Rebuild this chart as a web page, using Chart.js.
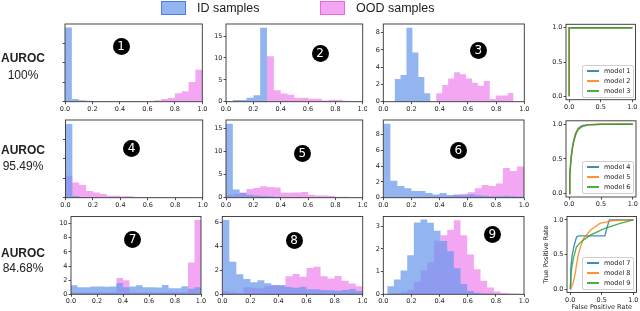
<!DOCTYPE html>
<html><head><meta charset="utf-8">
<script src="https://cdn.jsdelivr.net/npm/chart.js@4.4.1/dist/chart.umd.min.js"></script>
<style>
html,body{margin:0;padding:0;background:#fff;}
#root{position:relative;width:640px;height:311px;overflow:hidden;font-family:'Liberation Sans',Arial,sans-serif;color:#222;}
canvas{position:absolute;}
.t{position:absolute;white-space:nowrap;}
.sw{position:absolute;width:25px;height:14px;box-sizing:border-box;}
.num{position:absolute;width:17px;height:17px;border-radius:50%;background:#000;color:#fff;font:12px 'DejaVu Sans',sans-serif;text-align:center;line-height:17px;}
.rl{position:absolute;width:52px;box-sizing:border-box;border:1px solid #d0d0d0;border-radius:2px;background:rgba(255,255,255,0.85);font:6.5px 'DejaVu Sans',sans-serif;color:#222;padding:0 0 1px 0;}
.rr{height:10px;display:flex;align-items:center;white-space:nowrap;}
.ln{display:inline-block;width:12px;height:1.5px;margin:0 5px 0 4px;}
</style></head><body><div id="root"></div>
<script>
// ---------------- DATA ----------------
const legendLabels = ['ID samples', 'OOD samples'];
const rowTitles = ['AUROC', 'AUROC', 'AUROC'];
const rowScores = ['100%', '95.49%', '84.68%'];
const histXTicks = [0, 0.2, 0.4, 0.6, 0.8, 1.0];
const rocTicks = [0, 0.5, 1.0];

// each histogram: 20 equal bins over [start, end]
const p1Range = [0, 1];
const p1Id  = [19.07,0.69,0.4,0.25,0.15,0.08,0.05,0.03,0.02,0.02,0.01,0.01,0,0,0,0,0,0,0,0];
const p1Ood = [0,0,0,0,0,0,0,0,0,0,0.15,0.05,0.1,0.35,0.7,0.95,2.2,2.7,5.1,8.25];
const p1YTicks = [0, 5, 10, 15];

const p2Range = [0, 1];
const p2Id  = [0.15,0.4,0.4,0.9,1.45,16.9,0,0,0,0,0,0,0,0,0,0,0,0,0,0];
const p2Ood = [0,0,0,0,0,0.1,10.4,2.6,1.9,1.6,0.85,0.9,0.7,0.7,0.3,0.45,0.45,0.2,0.15,0.15];
const p2YTicks = [0, 5, 10, 15];

const p3Range = [0.08, 0.924];
const p3Id  = [2.63,3.09,8.57,5.71,2.86,0.97,0,0,0,0,0,0,0,0,0,0,0,0,0,0];
const p3Ood = [0,0,0,0,0,0,0,0.97,1.93,2.7,3.4,3.17,2.7,2.2,1.85,2.4,0.3,0.73,0.73,1.0];
const p3YTicks = [0, 2, 4, 6, 8];

const p4Range = [0, 1];
const p4Id  = [18.9,0.45,0.2,0.1,0.08,0.05,0.05,0.03,0.02,0.02,0.02,0.01,0.01,0.01,0,0,0,0,0,0];
const p4Ood = [5.6,3.9,3.25,1.7,1.3,0.95,0.5,0.5,0.35,0.35,0.17,0.17,0.17,0.1,0.1,0.05,0.03,0.02,0.01,0.01];
const p4YTicks = [0, 5, 10, 15];

const p5Range = [0, 1];
const p5Id  = [16.0,1.75,1.0,0.65,0.5,0.35,0.3,0.2,0.12,0.1,0.08,0.06,0.05,0.04,0.03,0.03,0.02,0.02,0.01,0.01];
const p5Ood = [0.65,0.8,1.1,1.9,2.1,2.5,2.3,2.2,1.05,1.05,1.1,1.25,0.65,0.5,0.45,0.35,0.2,0.2,0.15,0.15];
const p5YTicks = [0, 5, 10, 15];

const p6Range = [0, 1];
const p6Id  = [9.4,2.15,1.5,1.2,0.85,0.85,0.6,0.4,0.6,0.35,0.4,0.3,0.4,0.3,0.25,0.2,0.2,0.25,0.2,0.15];
const p6Ood = [0.1,0.1,0.1,0.1,0.1,0.12,0.15,0.15,0.15,0.2,0.35,0.5,0.68,1.2,1.6,1.5,1.8,3.77,3.4,3.95];
const p6YTicks = [0, 2, 4, 6, 8];

const p7Range = [0, 1];
const p7Id  = [1.27,1.0,1.0,1.1,1.1,1.05,1.1,1.6,1.0,1.1,1.27,1.0,1.0,0.95,1.3,0.85,0.85,1.15,0.8,1.0];
const p7Ood = [0.3,0.3,0.3,0.3,0.3,0.3,0.3,2.3,2.0,0.3,0.3,0.3,0.3,0.3,0.3,0.3,0.3,0.3,4.5,10.5];
const p7YTicks = [0, 2, 4, 6, 8, 10];

const p8Range = [0, 1];
const p8Id  = [6.2,2.72,1.67,1.28,1.0,1.17,0.92,0.78,0.75,0.6,0.55,0.64,0.42,0.42,0.36,0.33,0.3,0.36,0.45,0.28];
const p8Ood = [0.28,0.17,0.1,0.58,0.55,0.5,0.7,0.75,0.75,1.5,1.7,1.47,2.2,2.3,1.5,1.33,1.53,1.14,0.9,0.67];
const p8YTicks = [0, 2, 4, 6];

const p9Range = [0.028, 0.975];
const p9Id  = [0.35,0.65,1.05,1.72,3.17,3.3,3.15,2.8,2.35,1.9,1.15,0.45,0.15,0.07,0.03,0.02,0,0,0,0];
const p9Ood = [0.02,0.03,0.1,0.2,0.55,1.06,1.4,2.36,2.6,2.85,3.27,2.6,1.75,1.1,0.6,0.3,0.12,0.06,0.03,0.02];
const p9YTicks = [0, 1, 2, 3];

// ROC curves (false positive rate, true positive rate)
const rocNames1 = ['model 1', 'model 2', 'model 3'];
const m1Fpr = [0, 0, 1], m1Tpr = [0, 1, 1];
const m2Fpr = [0, 0, 1], m2Tpr = [0, 1, 1];
const m3Fpr = [0, 0, 1], m3Tpr = [0, 1, 1];

const rocNames2 = ['model 4', 'model 5', 'model 6'];
const m4Fpr = [0,0.01,0.03,0.05,0.07,0.1,0.14,0.2,0.3,0.5,1], m4Tpr = [0,0.3,0.53,0.67,0.77,0.87,0.94,0.98,0.995,1,1];
const m5Fpr = [0,0.01,0.03,0.05,0.07,0.1,0.14,0.2,0.3,0.5,1], m5Tpr = [0,0.28,0.5,0.65,0.75,0.86,0.93,0.97,0.99,1,1];
const m6Fpr = [0,0.01,0.03,0.05,0.07,0.1,0.14,0.2,0.3,0.5,1], m6Tpr = [0,0.28,0.5,0.64,0.74,0.84,0.92,0.965,0.99,0.998,1];

const rocNames3 = ['model 7', 'model 8', 'model 9'];
const m7Fpr = [0,0.01,0.03,0.06,0.1,0.13,0.55,0.58,0.62,1], m7Tpr = [0,0.3,0.48,0.62,0.75,0.77,0.77,0.88,1,1];
const m8Fpr = [0,0.03,0.05,0.08,0.1,0.13,0.16,0.21,0.32,0.47,0.68,1], m8Tpr = [0,0.05,0.1,0.22,0.35,0.5,0.6,0.73,0.85,0.95,0.99,1];
const m9Fpr = [0,0.016,0.05,0.1,0.18,0.32,0.53,0.79,1], m9Tpr = [0,0.25,0.44,0.61,0.69,0.78,0.87,0.95,1];

const rocAxisTitles = ['False Positive Rate', 'True Positive Rate'];

// ---------------- STYLE / LAYOUT ----------------
const ID_FILL = 'rgba(100,149,237,0.7)';
const OOD_FILL = 'rgba(238,130,238,0.7)';
const TAB = ['rgba(31,119,180,0.85)', 'rgba(255,127,14,0.85)', 'rgba(44,160,44,0.85)'];
const TICK_FONT = {family: "'DejaVu Sans', sans-serif", size: 6.5};
const INK = '#222';
const root = document.getElementById('root');

function fmt1(v) { return Number(v).toFixed(1); }
function fmt0(v) { return String(Math.round(v)); }
function blank() { return ''; }

function geom(box, m) {
  const cl = Math.floor(box[0] - m.yw), ct = Math.floor(box[1] - m.pt);
  const cr = Math.ceil(box[2] + m.pr), cb = Math.min(311, Math.ceil(box[3] + m.xh));
  return {cl, ct, w: cr - cl, h: cb - ct, yw: box[0] - cl, pt: box[1] - ct, pr: cr - box[2], xh: cb - box[3]};
}
function addCanvas(g) {
  const c = document.createElement('canvas');
  c.width = g.w; c.height = g.h;
  c.style.left = g.cl + 'px'; c.style.top = g.ct + 'px';
  c.style.width = g.w + 'px'; c.style.height = g.h + 'px';
  root.appendChild(c);
  return c;
}
function axis(pos, min, max, ticks, fmt, size, title) {
  const a = {
    type: 'linear', position: pos, min: min, max: max,
    afterBuildTicks: s => { s.ticks = ticks.map(v => ({value: v})); },
    afterFit: s => {
      if (pos === 'bottom') s.height = size; else s.width = size;
      s.paddingLeft = 0; s.paddingRight = 0; s.paddingTop = 0; s.paddingBottom = 0;
    },
    ticks: {font: TICK_FONT, color: INK, padding: 1, autoSkip: false, maxRotation: 0, minRotation: 0, callback: v => fmt(v)},
    grid: {drawOnChartArea: false, drawTicks: true, tickLength: 2.5, tickColor: INK, tickWidth: 0.8},
    border: {display: false}
  };
  if (title) a.title = {display: true, text: title, font: TICK_FONT, color: INK, padding: 0};
  return a;
}
const frame = {
  id: 'frame',
  afterDatasetsDraw(c) {
    const a = c.chartArea, x = c.ctx;
    x.save(); x.strokeStyle = '#333'; x.lineWidth = 0.9;
    x.strokeRect(a.left, a.top, a.right - a.left, a.bottom - a.top);
    x.restore();
  }
};
function steps(range, counts) {
  const w = (range[1] - range[0]) / counts.length;
  const pts = counts.map((c, i) => ({x: range[0] + i * w, y: c}));
  pts.push({x: range[1], y: counts[counts.length - 1]});
  return pts;
}
function histDs(label, pts, color) {
  return {label, data: pts, stepped: 'before', fill: 'origin', backgroundColor: color,
          borderColor: 'transparent', borderWidth: 0, pointRadius: 0, pointHoverRadius: 0};
}
function hist(box, m, range, idC, oodC, yMax, yTicks, showY) {
  const g = geom(box, m);
  new Chart(addCanvas(g), {
    type: 'line',
    data: {datasets: [histDs(legendLabels[0], steps(range, idC), ID_FILL),
                      histDs(legendLabels[1], steps(range, oodC), OOD_FILL)]},
    options: {
      responsive: false, animation: false, events: [],
      layout: {padding: {left: 0, top: g.pt, right: g.pr, bottom: 0}},
      plugins: {legend: {display: false}, tooltip: {enabled: false}},
      scales: {x: axis('bottom', 0, 1, histXTicks, fmt1, g.xh),
               y: axis('left', 0, yMax, yTicks, showY ? fmt0 : blank, g.yw)}
    },
    plugins: [frame]
  });
}
function roc(box, m, models, titles) {
  const g = geom(box, m);
  new Chart(addCanvas(g), {
    type: 'line',
    data: {datasets: models.map((md, i) => ({
      label: md.name, data: md.fpr.map((x, j) => ({x: x, y: md.tpr[j]})),
      borderColor: TAB[i], backgroundColor: TAB[i], borderWidth: 1.3, pointRadius: 0,
      fill: false, tension: 0, order: 3 - i}))},
    options: {
      responsive: false, animation: false, events: [],
      layout: {padding: {left: 0, top: g.pt, right: g.pr, bottom: 0}},
      plugins: {legend: {display: false}, tooltip: {enabled: false}},
      scales: {x: axis('bottom', -0.05, 1.05, rocTicks, fmt1, g.xh, titles ? rocAxisTitles[0] : null),
               y: axis('left', -0.05, 1.05, rocTicks, fmt1, g.yw, titles ? rocAxisTitles[1] : null)}
    },
    plugins: [frame]
  });
}
function text(str, x, y, css) {
  const d = document.createElement('div');
  d.className = 't'; d.textContent = str;
  d.style.cssText += css;
  d.style.left = x + 'px'; d.style.top = y + 'px';
  root.appendChild(d);
  return d;
}
function centered(str, cx, cy, css) {
  const d = text(str, 0, 0, css);
  const r = d.getBoundingClientRect();
  d.style.left = (cx - r.width / 2) + 'px'; d.style.top = (cy - r.height / 2) + 'px';
}
function num(n, cx, cy) {
  const d = document.createElement('div');
  d.className = 'num'; d.textContent = n;
  d.style.left = (cx - 8.5) + 'px'; d.style.top = (cy - 8.5) + 'px';
  root.appendChild(d);
}
function rocLegend(left, top, names) {
  const d = document.createElement('div');
  d.className = 'rl'; d.style.left = left + 'px'; d.style.top = top + 'px';
  names.forEach((n, i) => {
    const r = document.createElement('div'); r.className = 'rr';
    const l = document.createElement('span'); l.className = 'ln'; l.style.background = TAB[i];
    const s = document.createElement('span'); s.textContent = n;
    r.appendChild(l); r.appendChild(s); d.appendChild(r);
  });
  root.appendChild(d);
}

// ---------------- BUILD ----------------
const HM = {yw: 22, pt: 6, pr: 6, xh: 14};
const HM2 = {yw: 22, pt: 6, pr: 3.5, xh: 14};
const RM = {yw: 22, pt: 6, pr: 3, xh: 14};

hist([65, 24, 202.3, 101.7], HM, p1Range, p1Id, p1Ood, 20.0, p1YTicks, false);
hist([226, 24, 362.7, 101.7], HM2, p2Range, p2Id, p2Ood, 17.75, p2YTicks, true);
hist([383.3, 24, 524.3, 101.7], HM, p3Range, p3Id, p3Ood, 9.0, p3YTicks, true);
hist([65.5, 120, 202.7, 197.7], HM, p4Range, p4Id, p4Ood, 19.9, p4YTicks, false);
hist([226, 120, 362.7, 197.7], HM2, p5Range, p5Id, p5Ood, 16.8, p5YTicks, true);
hist([383.3, 120, 524, 197.7], HM, p6Range, p6Id, p6Ood, 9.87, p6YTicks, true);
hist([71, 216.5, 201, 294.3], HM, p7Range, p7Id, p7Ood, 11.0, p7YTicks, true);
hist([222.3, 216.5, 362.7, 294.3], HM2, p8Range, p8Id, p8Ood, 6.5, p8YTicks, true);
hist([383.3, 216.5, 524, 294.3], HM, p9Range, p9Id, p9Ood, 3.43, p9YTicks, true);

roc([566, 24.3, 635.5, 99.7], RM, [
  {name: rocNames1[0], fpr: m1Fpr, tpr: m1Tpr},
  {name: rocNames1[1], fpr: m2Fpr, tpr: m2Tpr},
  {name: rocNames1[2], fpr: m3Fpr, tpr: m3Tpr}], false);
roc([566, 120.8, 636, 197], RM, [
  {name: rocNames2[0], fpr: m4Fpr, tpr: m4Tpr},
  {name: rocNames2[1], fpr: m5Fpr, tpr: m5Tpr},
  {name: rocNames2[2], fpr: m6Fpr, tpr: m6Tpr}], false);
roc([567, 216.5, 636.5, 292.5], {yw: 25, pt: 6, pr: 3, xh: 30}, [
  {name: rocNames3[0], fpr: m7Fpr, tpr: m7Tpr},
  {name: rocNames3[1], fpr: m8Fpr, tpr: m8Tpr},
  {name: rocNames3[2], fpr: m9Fpr, tpr: m9Tpr}], true);

rocLegend(582, 65, rocNames1);
rocLegend(582, 161, rocNames2);
rocLegend(582, 257, rocNames3);

// top legend
const sw1 = document.createElement('div'); sw1.className = 'sw';
sw1.style.cssText += 'left:161px;top:1px;background:rgba(100,149,237,0.7);border:1px solid rgba(70,120,225,0.9);';
root.appendChild(sw1);
const sw2 = document.createElement('div'); sw2.className = 'sw';
sw2.style.cssText += 'left:320px;top:1px;background:rgba(238,130,238,0.7);border:1px solid rgba(230,95,230,0.9);';
root.appendChild(sw2);
text(legendLabels[0], 197, 1, 'font-size:12.5px;');
text(legendLabels[1], 356, 1, 'font-size:12.5px;');

// row labels
const rowY = [[58, 75], [150, 166], [253, 268]];
rowY.forEach((p, i) => {
  centered(rowTitles[i], 23, p[0], 'font-size:12px;font-weight:bold;');
  centered(rowScores[i], 23, p[1], 'font-size:12px;');
});

// panel numbers
const numPos = [[121,46],[320,53.3],[478.3,50],[131.7,148.3],[302.3,153.3],[458.3,150],[132.7,239.3],[294,240],[492.3,234.3]];
numPos.forEach((p, i) => num(String(i + 1), p[0], p[1]));
</script>
</body></html>
